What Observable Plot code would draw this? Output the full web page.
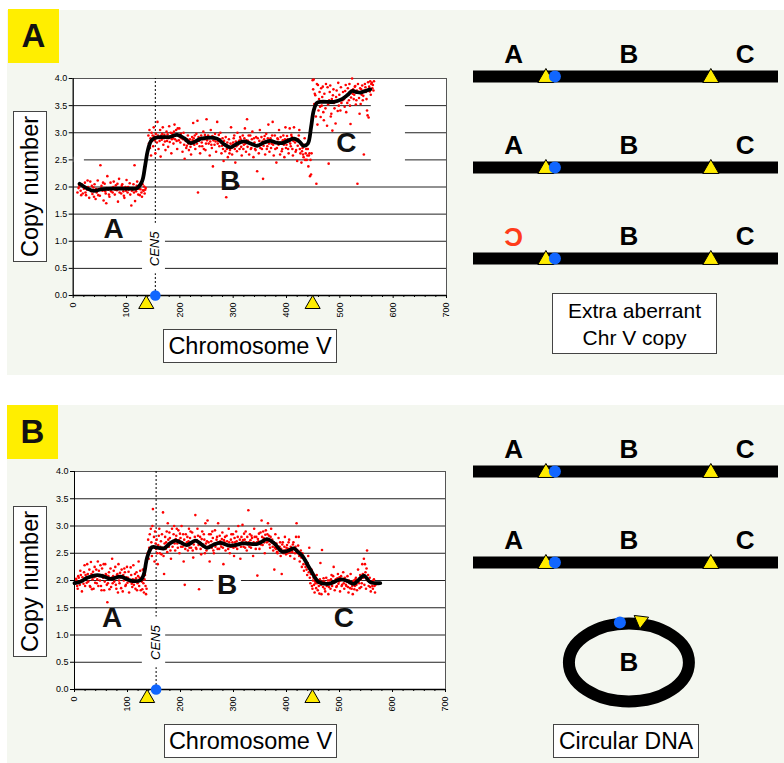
<!DOCTYPE html>
<html><head><meta charset="utf-8">
<script src="https://cdn.jsdelivr.net/npm/d3@7"></script>
<script src="https://cdn.jsdelivr.net/npm/@observablehq/plot@0.6"></script>
<style>
body{margin:0;background:#fff;font-family:"Liberation Sans",Arial,sans-serif;}
#root{position:relative;width:784px;height:763px;overflow:hidden;background:#fff;}
.panel{position:absolute;left:7px;width:777px;background:#f4f7f0;}
.tag{position:absolute;background:#ffee00;font-weight:bold;font-size:33px;display:flex;align-items:center;justify-content:center;color:#111;}
.box{position:absolute;background:#fff;border:1.5px solid #444;box-sizing:border-box;display:flex;align-items:center;justify-content:center;text-align:center;color:#000;font-size:23.5px;}
.vert{writing-mode:vertical-rl;transform:rotate(180deg);}
.abs{position:absolute;}
</style></head><body>
<div id="root">
  <div class="panel" style="top:10px;height:365px"></div>
  <div class="panel" style="top:405px;height:358px"></div>
  <div class="tag" style="left:8px;top:9px;width:51px;height:54px">A</div>
  <div class="tag" style="left:7px;top:405px;width:51px;height:54px">B</div>
  <div class="abs" id="chartA" style="left:0;top:60px"></div>
  <div class="abs" id="chartB" style="left:0;top:453px"></div>
  <div class="abs" id="diagA" style="left:460px;top:10px"></div>
  <div class="abs" id="diagB" style="left:460px;top:405px"></div>
  <div class="box vert" style="left:13px;top:111px;width:34px;height:151px">Copy number</div>
  <div class="box" style="left:163px;top:329px;width:174px;height:34px">Chromosome V</div>
  <div class="box" style="left:552px;top:293px;width:165px;height:61px;font-size:21px;line-height:27px">Extra aberrant<br>Chr V copy</div>
  <div class="box vert" style="left:13px;top:506px;width:34px;height:151px">Copy number</div>
  <div class="box" style="left:164px;top:724px;width:173px;height:34px">Chromosome V</div>
  <div class="box" style="left:553px;top:724px;width:146px;height:34px;font-size:23px">Circular DNA</div>
</div>
<script>
// ---------- data ----------
const chrLen = 577;            // Chromosome V length (kb)
const cen5 = 154;              // centromere position (kb)
const markers = [137, 449];    // yellow triangle breakpoints (kb)
const regionNames = ["A", "B", "C"];
const regionPos = [76, 294, 514];

const xTicks = [0, 100, 200, 300, 400, 500, 600, 700];
const xMinor = [20,40,60,80,120,140,160,180,220,240,260,280,320,340,360,380,420,440,460,480,520,540,560,580,620,640,660,680];
const yTicks = [0, 0.5, 1, 1.5, 2, 2.5, 3, 3.5, 4];
const gridY = [0.5, 1, 1.5, 2, 2.5, 3, 3.5];

// Panel A: smoothed copy number
const smoothA = [[12,2.06],[25,1.98],[38,1.93],[55,1.96],[80,1.97],[105,1.97],[120,1.98],[129,2.1],[135,2.4],[140,2.68],[146,2.85],[152,2.9],[165,2.92],[180,2.92],[195,2.96],[208,2.9],[220,2.81],[240,2.89],[270,2.89],[284,2.78],[295,2.73],[308,2.8],[320,2.84],[333,2.8],[345,2.76],[358,2.82],[370,2.85],[380,2.82],[392,2.81],[404,2.86],[414,2.89],[424,2.84],[432,2.76],[440,2.8],[446,3.1],[451,3.41],[457,3.55],[465,3.57],[489,3.57],[504,3.62],[515,3.7],[523,3.77],[531,3.75],[539,3.74],[548,3.77],[557,3.8]];
// Panel A: probe copy numbers [kb, copy number]
const pointsA = [
[8,1.9],[10,1.98],[11,2.04],[12,2.02],[14,1.93],[15,1.85],[16,2.05],[18,1.88],[19,2.0],[20,1.97],[22,2.08],[23,1.9],[24,1.85],[26,1.95],[27,2.12],[28,2.0],[30,1.8],[31,1.95],[32,2.1],[34,1.92],[35,2.02],[36,1.87],[38,1.99],[39,1.82],[40,2.05],[42,1.78],[43,1.96],[44,1.9],[46,2.12],[47,1.85],[48,1.96],[50,1.84],[51,2.4],[52,1.97],[53,2.02],[55,1.93],[56,2.08],[57,1.75],[59,2.06],[60,1.92],[61,1.88],[62,1.7],[63,1.98],[64,2.2],[66,1.95],[67,1.86],[68,1.82],[70,2.08],[71,1.92],[72,1.98],[74,1.9],[75,2.0],[76,2.1],[78,1.86],[79,1.95],[80,2.03],[82,1.94],[83,2.06],[84,1.73],[86,2.15],[87,1.9],[88,1.97],[90,1.88],[91,2.02],[92,2.05],[94,1.92],[95,1.84],[96,1.8],[98,2.0],[99,1.93],[100,2.13],[102,1.9],[103,2.0],[104,1.95],[106,2.07],[107,1.86],[109,1.66],[110,1.93],[111,1.98],[113,2.05],[114,1.9],[115,2.4],[116,1.74],[118,1.92],[119,2.02],[120,2.1],[122,1.86],[123,1.97],[124,2.02],[125,1.85],[126,1.96],[127,2.06],[128,1.9],[129,1.82],[130,2.05],[131,1.94],[132,1.93],[133,2.01],[134,1.88],[135,1.95],[136,1.98],
[140,2.65],[141,2.95],[142,2.8],[143,3.05],[144,2.72],[145,2.9],[146,2.58],[147,3.0],[148,2.85],[149,2.95],[150,2.75],[151,3.1],[152,2.93],[153,2.86],[154,2.62],[155,2.98],[156,2.9],[157,2.82],[158,3.2],[159,2.95],[160,2.7],[161,2.92],[162,2.85],[163,3.05],[164,2.56],[165,2.95],[166,2.87],[167,2.98],[168,3.1],[169,2.78],[170,2.9],[171,2.96],[172,2.84],[173,2.68],[174,2.92],[175,3.02],[176,2.85],[177,2.97],[178,2.74],[179,2.9],[180,3.12],[181,2.83],[182,2.92],[183,3.0],[184,2.62],[185,2.88],[186,2.98],[187,2.9],[188,2.8],[189,3.02],[190,3.15],[191,2.88],[192,2.95],[193,3.05],[194,2.85],[195,2.7],[196,3.08],[197,2.95],[198,2.86],[199,3.08],[200,2.92],[201,2.82],[202,2.98],[203,2.9],[205,2.65],[206,2.88],[207,3.0],[208,2.78],[209,2.52],[210,2.9],[211,2.85],[212,2.72],[213,2.76],[214,2.88],[215,2.95],[216,2.8],[217,2.68],[218,2.84],[219,2.88],[220,2.74],[221,2.6],[222,2.8],[223,2.92],[224,2.86],[225,3.18],[226,2.9],[227,2.78],[228,2.95],[229,2.7],[230,2.84],[231,2.98],[232,2.8],[233,3.22],[234,1.9],[235,2.92],[236,2.85],[237,2.75],[238,2.62],[239,2.9],[240,2.95],[241,2.82],[242,2.75],[243,2.88],[244,3.02],[245,2.7],[246,2.88],[247,2.96],[248,2.68],[249,2.8],[250,3.25],[251,2.86],[252,2.92],[253,2.95],[254,2.8],[255,2.9],[256,2.58],[257,2.84],[258,3.05],[259,2.78],[260,2.72],[261,2.94],[262,2.38],[263,2.86],[264,2.9],[265,2.78],[266,2.98],[267,2.84],[268,2.65],[269,2.9],[270,3.2],[271,2.8],[272,2.85],[273,2.96],[274,2.75],[275,2.88],[276,3.0],[277,2.82],[278,2.62],[279,2.76],[280,2.9],[281,2.7],[282,2.48],[283,2.85],[284,2.78],[285,2.66],[286,2.92],[287,1.81],[288,2.7],[289,2.82],[290,2.55],[291,2.74],[292,2.88],[293,2.62],[294,2.68],[295,2.8],[296,3.1],[297,2.72],[298,2.6],[299,2.78],[300,2.82],[301,2.9],[302,2.95],[303,2.7],[304,2.45],[305,2.84],[306,2.75],[307,2.66],[308,3.0],[309,2.78],[310,2.02],[311,2.85],[312,2.7],[313,2.92],[314,2.88],[315,2.74],[316,2.58],[317,2.82],[318,2.95],[319,2.7],[320,2.78],[321,2.9],[322,3.08],[323,2.8],[324,2.65],[325,2.86],[326,3.25],[327,2.74],[328,2.85],[329,2.95],[330,2.6],[331,2.8],[332,2.95],[333,2.7],[334,2.72],[335,2.88],[336,3.02],[337,2.78],[338,2.55],[339,2.9],[340,2.82],[341,2.7],[342,2.68],[343,2.92],[345,2.29],[346,2.9],[347,2.76],[348,2.62],[349,2.85],[350,3.05],[351,2.72],[352,2.78],[353,2.92],[354,2.7],[355,2.84],[356,2.15],[357,2.76],[358,2.88],[359,2.94],[360,2.6],[361,2.82],[362,2.98],[363,2.7],[364,2.75],[365,2.9],[366,3.15],[367,2.8],[368,2.65],[369,2.86],[370,2.9],[371,2.72],[372,2.8],[373,2.95],[374,3.2],[375,2.78],[376,2.58],[377,2.84],[378,2.95],[379,2.7],[381,2.45],[382,2.72],[383,2.9],[384,2.88],[385,2.78],[386,3.05],[387,2.82],[388,2.6],[389,2.92],[390,2.82],[391,2.66],[392,2.7],[393,2.86],[394,2.95],[395,2.78],[396,2.55],[397,2.88],[398,3.1],[399,2.72],[400,2.78],[401,2.94],[402,2.88],[403,2.7],[404,2.62],[405,2.84],[406,3.08],[407,2.8],[408,2.75],[409,2.96],[410,2.92],[411,2.7],[412,2.58],[413,2.85],[414,3.1],[415,2.9],[416,2.82],[417,2.65],[418,2.68],[419,2.88],[420,2.48],[421,2.76],[422,2.88],[423,2.95],[424,3.05],[425,2.7],[426,2.62],[427,2.8],[428,2.45],[429,2.66],[430,2.72],[431,2.6],[432,2.55],[433,2.78],[434,2.9],[435,2.5],[436,2.62],[437,2.7],[438,2.5],[439,2.58],[440,2.7],[441,2.38],[442,2.58],[443,2.62],[444,2.2],[445,2.5],[446,2.23],[447,2.62],
[449,3.97],[450,3.8],[451,3.98],[452,3.53],[453,3.72],[454,3.69],[455,3.3],[456,2.06],[457,3.9],[458,3.15],[459,3.88],[460,3.41],[461,3.62],[462,3.75],[463,3.48],[464,3.29],[465,3.82],[466,3.5],[467,3.66],[468,3.85],[469,3.38],[470,3.23],[471,3.72],[472,3.58],[473,3.45],[474,3.9],[476,3.13],[477,3.84],[478,3.52],[479,2.43],[480,3.6],[481,3.75],[482,3.87],[483,3.3],[484,3.35],[485,3.62],[486,3.04],[487,3.69],[488,3.8],[489,3.55],[490,3.45],[492,3.17],[493,3.66],[494,3.78],[495,3.58],[496,3.4],[497,3.92],[498,3.5],[499,3.7],[501,3.41],[502,3.84],[503,3.55],[505,3.6],[506,3.75],[508,3.62],[509,3.48],[510,3.77],[511,3.88],[512,3.38],[513,3.68],[514,3.55],[515,3.82],[516,3.7],[517,3.6],[518,3.9],[519,3.5],[520,3.16],[521,3.65],[522,3.78],[523,4.0],[524,3.72],[525,3.8],[526,3.62],[527,3.7],[528,3.85],[529,3.86],[530,3.52],[531,3.6],[532,3.78],[533,2.06],[534,3.9],[535,3.75],[536,3.64],[537,3.35],[538,3.82],[539,3.53],[540,3.8],[541,3.7],[542,3.87],[543,3.6],[544,3.68],[545,2.6],[546,3.78],[547,3.9],[548,3.84],[549,3.75],[550,3.62],[551,3.41],[552,3.32],[553,3.93],[554,3.28],[555,3.85],[556,3.76],[557,3.95],[558,3.7],[559,3.9],[560,3.92],[561,3.82],[562,3.88],[563,3.78],[564,3.95]
];
const labelsA = [{t:"A", x:76, y:1.22}, {t:"B", x:294, y:2.11}, {t:"C", x:512, y:2.81}];
const gapsA = [{x1:130, x2:173, y1:0.4, y2:1.33}, {x1:559, x2:623, y1:2.4, y2:3.6}, {x1:0, x2:21, y1:2.45, y2:2.55}];

// Panel B: smoothed copy number
const smoothB = [[0,1.95],[12,1.98],[24,2.05],[43,2.1],[56,2.07],[68,2.03],[87,2.07],[100,2.02],[109,1.99],[125,2.01],[131,2.12],[137,2.42],[146,2.61],[158,2.6],[169,2.59],[180,2.68],[190,2.73],[200,2.7],[212,2.65],[228,2.73],[240,2.66],[250,2.6],[263,2.66],[275,2.69],[294,2.64],[319,2.68],[345,2.67],[355,2.72],[363,2.76],[376,2.69],[392,2.53],[404,2.55],[414,2.59],[422,2.52],[430,2.45],[445,2.2],[461,1.97],[480,1.94],[502,2.02],[515,1.99],[527,1.94],[537,2.02],[546,2.09],[558,1.97],[577,1.95]];
// Panel B: probe copy numbers [kb, copy number]
const pointsB = [
[2,1.95],[3,2.03],[4,2.0],[5,1.9],[6,1.85],[7,2.08],[8,2.05],[9,1.97],[10,1.92],[11,2.18],[12,2.1],[13,2.0],[14,1.8],[15,2.06],[16,2.0],[17,1.94],[18,2.15],[19,2.28],[20,1.9],[21,2.1],[22,2.05],[23,1.96],[24,2.3],[25,2.12],[26,1.98],[27,2.06],[28,2.2],[29,1.9],[30,1.88],[31,2.34],[32,2.12],[33,1.84],[34,2.02],[35,2.16],[36,1.85],[37,2.06],[38,2.25],[39,1.96],[40,2.08],[41,2.2],[42,1.95],[43,2.02],[44,2.35],[45,1.9],[46,2.18],[47,2.08],[48,2.0],[49,2.28],[50,1.9],[51,1.82],[52,2.22],[53,2.1],[54,2.05],[55,2.3],[56,1.82],[57,1.98],[58,2.3],[59,2.12],[60,2.1],[61,1.92],[62,1.6],[63,1.95],[64,2.08],[65,2.15],[66,1.84],[67,2.02],[68,2.22],[69,1.88],[70,2.05],[71,2.4],[72,1.95],[73,2.08],[74,2.18],[75,1.98],[76,2.06],[77,2.25],[78,1.92],[79,1.85],[80,2.1],[81,2.12],[82,1.78],[83,2.3],[84,2.0],[85,1.95],[86,2.14],[87,2.05],[88,1.86],[89,2.2],[90,2.08],[91,1.8],[92,2.1],[93,2.0],[94,2.22],[95,2.15],[96,1.9],[97,1.92],[98,2.06],[99,2.25],[100,1.96],[101,2.05],[102,2.16],[103,1.78],[104,2.0],[105,1.98],[106,2.24],[107,2.1],[108,1.94],[109,1.88],[110,2.02],[111,2.28],[112,1.92],[113,2.0],[114,2.12],[115,1.85],[116,2.04],[117,2.15],[118,1.82],[119,1.95],[120,2.08],[121,2.35],[122,1.9],[123,2.05],[124,2.18],[125,1.82],[126,2.0],[127,1.98],[128,1.84],[129,2.2],[130,1.95],[131,1.78],[132,2.02],[133,2.1],[134,1.9],[135,1.75],[136,1.85],
[138,2.5],[139,2.75],[140,2.4],[141,2.6],[142,2.85],[143,2.55],[144,2.95],[145,2.7],[146,2.45],[147,3.0],[148,3.31],[149,2.62],[150,2.8],[151,2.35],[152,2.9],[153,2.68],[154,2.58],[155,2.75],[156,2.5],[157,2.3],[158,2.65],[159,2.82],[160,2.95],[161,2.5],[162,2.62],[163,2.72],[164,2.48],[165,2.85],[166,2.6],[167,3.25],[168,2.45],[169,2.12],[170,2.68],[171,2.8],[172,2.58],[173,2.7],[174,2.9],[175,2.52],[176,3.05],[177,2.75],[178,2.62],[179,2.88],[180,2.78],[181,2.55],[182,2.4],[183,2.7],[184,2.95],[185,2.62],[186,2.7],[187,2.85],[188,3.0],[189,2.68],[190,2.55],[191,2.76],[192,2.82],[193,2.95],[194,2.68],[195,2.6],[196,2.92],[197,2.74],[198,2.5],[199,2.86],[200,2.78],[201,2.62],[202,3.0],[203,2.7],[204,2.62],[205,2.85],[206,2.35],[207,2.75],[208,1.92],[209,2.58],[210,2.85],[211,2.66],[212,2.7],[213,2.8],[214,2.55],[215,2.72],[216,2.95],[217,2.6],[218,2.78],[219,2.9],[220,2.6],[221,2.7],[222,2.88],[223,2.55],[224,2.42],[225,2.66],[226,2.72],[227,2.8],[228,3.2],[229,2.6],[230,2.58],[231,2.74],[232,2.95],[233,2.82],[234,2.65],[235,1.84],[236,2.7],[237,2.8],[238,2.58],[239,2.48],[240,2.76],[241,2.9],[242,2.66],[243,2.62],[244,2.85],[245,2.75],[246,2.5],[247,3.05],[248,2.68],[249,2.55],[250,2.72],[251,3.1],[252,2.62],[253,2.7],[254,2.85],[255,2.35],[256,2.64],[257,2.85],[258,2.72],[259,2.6],[260,2.9],[261,2.78],[262,2.55],[263,2.5],[264,2.68],[265,2.92],[266,2.62],[267,2.68],[268,2.75],[269,2.8],[270,2.58],[271,3.05],[272,2.7],[273,2.58],[274,2.82],[275,2.72],[276,2.66],[277,2.62],[278,2.76],[279,2.88],[280,2.6],[281,2.3],[282,2.74],[283,2.7],[284,2.8],[285,2.55],[286,2.66],[287,2.82],[288,2.72],[289,2.65],[290,2.58],[291,2.95],[292,2.7],[293,2.5],[294,2.62],[295,2.75],[296,2.85],[297,2.62],[298,2.7],[299,2.85],[300,2.6],[301,2.45],[302,2.78],[303,2.7],[304,2.62],[305,2.9],[306,2.72],[307,2.58],[308,2.8],[309,3.0],[310,2.66],[311,2.68],[312,2.75],[313,2.4],[314,2.62],[315,2.8],[316,2.7],[317,3.02],[318,2.74],[319,2.62],[320,2.86],[321,2.75],[322,2.6],[323,2.9],[324,2.7],[325,2.55],[326,2.8],[327,2.66],[328,3.29],[329,2.7],[330,2.62],[331,2.85],[332,2.74],[333,2.6],[334,2.82],[335,2.78],[336,2.66],[337,2.45],[338,2.7],[339,2.95],[340,2.8],[341,2.68],[342,2.58],[343,2.8],[344,2.7],[345,2.09],[346,2.76],[347,2.72],[348,2.86],[349,2.58],[350,2.7],[351,2.88],[352,2.66],[353,3.1],[354,2.8],[355,2.65],[356,2.9],[357,2.78],[358,2.7],[359,2.5],[360,2.84],[361,2.92],[362,2.76],[363,2.7],[364,2.85],[365,3.05],[366,2.72],[367,2.82],[368,2.66],[369,2.6],[370,2.8],[371,2.95],[372,2.7],[373,2.75],[374,2.62],[375,2.55],[376,2.7],[377,2.2],[378,2.6],[379,2.85],[380,2.58],[381,2.68],[382,2.52],[383,2.5],[384,2.62],[385,2.78],[386,2.55],[387,2.62],[388,2.7],[389,2.45],[390,2.58],[391,2.12],[392,2.66],[393,2.7],[394,2.5],[395,2.55],[396,2.62],[397,2.8],[398,2.55],[399,2.48],[400,2.6],[401,2.65],[402,2.5],[403,2.58],[404,2.7],[405,2.75],[406,2.52],[407,2.45],[408,2.62],[409,2.6],[410,2.55],[411,2.52],[412,2.66],[413,2.7],[414,2.58],[415,2.4],[416,2.5],[417,2.62],[418,2.8],[419,3.05],[420,2.56],[421,2.5],[422,2.64],[423,2.8],[424,2.45],[425,2.35],[426,2.5],[427,2.55],[428,2.42],[429,2.25],[430,2.5],[431,2.45],[432,2.3],[433,2.18],[434,2.4],[435,2.38],[436,2.25],[437,2.3],[438,2.2],[439,2.1],[440,2.32],[441,2.45],[442,2.15],[443,2.6],[444,2.05],
[445,1.95],[446,2.12],[447,2.2],[448,1.9],[449,1.85],[450,2.0],[451,2.05],[452,1.92],[453,1.78],[454,1.98],[455,1.95],[456,1.86],[457,2.1],[458,1.95],[459,1.82],[460,2.0],[461,1.9],[462,1.76],[463,2.02],[464,2.32],[465,1.92],[466,1.75],[467,2.56],[468,1.98],[469,1.88],[470,2.04],[471,1.98],[472,1.85],[473,1.8],[474,1.95],[475,2.05],[476,1.9],[477,1.92],[478,2.0],[479,1.75],[480,1.88],[481,2.0],[482,1.95],[483,1.85],[484,2.02],[485,2.1],[486,1.9],[487,1.95],[488,2.08],[489,2.25],[490,1.96],[491,1.82],[492,1.98],[493,2.02],[494,1.88],[495,1.9],[496,2.04],[497,2.12],[498,1.94],[499,1.98],[500,2.06],[501,1.8],[502,2.0],[503,2.08],[504,1.9],[505,1.92],[506,2.02],[507,2.15],[508,1.95],[509,1.85],[510,2.05],[511,2.0],[512,1.92],[513,1.9],[514,1.98],[515,2.08],[516,1.88],[517,1.78],[518,2.0],[519,1.95],[520,1.86],[521,2.12],[522,1.94],[523,1.85],[524,1.9],[525,1.75],[526,1.98],[527,2.0],[528,1.84],[529,1.9],[530,2.02],[531,2.05],[532,1.92],[533,1.82],[534,1.98],[535,2.2],[536,2.0],[537,1.95],[538,1.86],[539,2.1],[540,2.02],[541,1.88],[542,1.95],[543,2.3],[544,2.12],[545,2.05],[546,2.4],[547,1.92],[548,2.3],[549,2.15],[550,1.85],[551,2.22],[552,2.55],[553,2.0],[554,2.1],[555,1.9],[556,1.98],[557,2.05],[558,1.88],[559,1.8],[560,1.95],[561,1.98],[562,1.9],[563,1.85],[564,2.0],[565,2.02],[566,1.9],[567,1.78],[568,1.92],[569,1.95]
];
const labelsB = [{t:"A", x:71, y:1.32}, {t:"B", x:288, y:1.92}, {t:"C", x:508, y:1.32}];
const gapsB = [{x1:128, x2:172, y1:0.4, y2:1.33}, {x1:263, x2:315, y1:1.95, y2:2.05}];

// ---------- drawing ----------
const FONT = "'Liberation Sans', Arial, sans-serif";
const YELLOW = "#ffec00", BLUE = "#1166ff", RED = "#ff0000";

function cnvChart({points, smooth, labels, gaps, mL, mR, mB}) {
  return Plot.plot({
    width: 460, height: 300,
    marginLeft: mL, marginRight: mR, marginTop: 18, marginBottom: mB,
    x: {domain: [0, 700]},
    y: {domain: [0, 4]},
    style: {background: "transparent", overflow: "visible", fontFamily: FONT, fontSize: "9px", color: "#000"},
    marks: [
      Plot.frame({fill: "white", stroke: "#555"}),
      Plot.ruleY(gridY, {stroke: "#222", strokeWidth: 1}),
      Plot.ruleX([cen5], {y1: 0, y2: 4, stroke: "#000", strokeDasharray: "2,2"}),
      Plot.rect(gaps, {x1: "x1", x2: "x2", y1: "y1", y2: "y2", fill: "white"}),
      Plot.dot(points, {x: d => d[0], y: d => d[1], r: 1.3, fill: RED}),
      Plot.line(smooth, {x: d => d[0], y: d => d[1], stroke: "#000", strokeWidth: 3.8, curve: "catmull-rom"}),
      Plot.ruleX([0], {stroke: "#000"}),
      Plot.ruleY([0], {stroke: "#000", strokeWidth: 1.5}),
      Plot.axisY({ticks: yTicks, tickFormat: d3.format(".1f"), tickSize: 4, tickPadding: 2, label: null, fontSize: 9}),
      Plot.axisX({ticks: xTicks, tickSize: 3, tickRotate: -90, tickPadding: 4, label: null, fontSize: 9}),
      Plot.axisX({ticks: xMinor, tickSize: 2, tickFormat: () => "", label: null}),
      Plot.text(labels, {x: "x", y: "y", text: "t", fontSize: 28, fontWeight: "bold", fill: "#111"}),
      Plot.text([cen5], {x: d => d, y: 0.86, text: () => "CEN5", rotate: -90, fontStyle: "italic", fontSize: 13}),
      Plot.dot(markers, {x: d => d, y: 0, symbol: "triangle", r: 5.6, fill: YELLOW, stroke: "#000", strokeWidth: 1, dy: 8.66}),
      Plot.dot([cen5], {x: d => d, y: 0, r: 5.3, fill: BLUE})
    ]
  });
}

document.getElementById("chartA").append(cnvChart({points: pointsA, smooth: smoothA, labels: labelsA, gaps: gapsA, mL: 72.7, mR: 14, mB: 65}));
document.getElementById("chartB").append(cnvChart({points: pointsB, smooth: smoothB, labels: labelsB, gaps: gapsB, mL: 74, mR: 15, mB: 64}));

// custom symbols for the diagram
const ellipseSymbol = {draw(ctx, size) {
  const rx = Math.sqrt(size / Math.PI), ry = rx * 0.65, k = 0.5523;
  ctx.moveTo(rx, 0);
  ctx.bezierCurveTo(rx, ry * k, rx * k, ry, 0, ry);
  ctx.bezierCurveTo(-rx * k, ry, -rx, ry * k, -rx, 0);
  ctx.bezierCurveTo(-rx, -ry * k, -rx * k, -ry, 0, -ry);
  ctx.bezierCurveTo(rx * k, -ry, rx, -ry * k, rx, 0);
  ctx.closePath();
}};
const tiltedDown = {draw(ctx, size) {
  const y = -Math.sqrt(size / (3 * Math.sqrt(3)));
  const pts = [[0, 2 * y], [-Math.sqrt(3) * y, -y], [Math.sqrt(3) * y, -y]];
  const a = 187 * Math.PI / 180, c = Math.cos(a), s = Math.sin(a);
  pts.forEach(([px, py], i) => { const X = px * c - py * s, Y = px * s + py * c; i ? ctx.lineTo(X, Y) : ctx.moveTo(X, Y); });
  ctx.closePath();
}};

function diagram({rows, height}) {
  const lin = rows.filter(r => r.kind === "linear");
  const circ = rows.filter(r => r.kind === "circle");
  const letters = lin.flatMap(r => regionNames.map((n, i) => ({row: r.id, name: n, pos: regionPos[i], inv: !!r.invertedLeft && i === 0})));
  const tris = lin.flatMap(r => markers.map(m => ({row: r.id, pos: m})));
  return Plot.plot({
    width: 324, height,
    marginLeft: 13, marginRight: 6, marginTop: 0, marginBottom: 0,
    x: {domain: [0, chrLen], axis: null},
    y: {type: "point", domain: rows.map(r => r.id), range: [66, 248], padding: 0, axis: null},
    style: {background: "transparent", overflow: "visible", fontFamily: FONT},
    marks: [
      Plot.ruleY(lin, {y: "id", x1: 0, x2: chrLen, stroke: "#000", strokeWidth: 12}),
      Plot.text(letters.filter(d => !d.inv), {x: "pos", y: "row", text: "name", dy: -22, fontSize: 26, fontWeight: "bold", fill: "#000"}),
      Plot.text(letters.filter(d => d.inv), {x: "pos", y: "row", text: () => "C", rotate: 180, dy: -22, fontSize: 26, fontWeight: "bold", fill: "#ff3c1a"}),
      Plot.dot(tris, {x: "pos", y: "row", symbol: "triangle", r: 6, fill: YELLOW, stroke: "#000", strokeWidth: 1, dy: 1.3}),
      Plot.dot(lin, {x: () => cen5, y: "id", r: 6, fill: BLUE}),
      Plot.dot(circ, {x: () => regionPos[1], y: "id", symbol: ellipseSymbol, r: 60, fill: "none", stroke: "#000", strokeWidth: 12, dy: 9}),
      Plot.text(circ, {x: () => regionPos[1], y: "id", text: () => "B", dy: 9, fontSize: 26, fontWeight: "bold", fill: "#000"}),
      Plot.dot(circ, {x: () => regionPos[1], y: "id", r: 6, fill: BLUE, dx: -9, dy: -31}),
      Plot.dot(circ, {x: () => regionPos[1], y: "id", symbol: tiltedDown, r: 5.4, fill: YELLOW, stroke: "#000", strokeWidth: 1, dx: 12, dy: -33})
    ]
  });
}

document.getElementById("diagA").append(diagram({height: 365, rows: [
  {id: "chr1", kind: "linear"}, {id: "chr2", kind: "linear"}, {id: "aberrant", kind: "linear", invertedLeft: true}
]}));
document.getElementById("diagB").append(diagram({height: 358, rows: [
  {id: "chr1", kind: "linear"}, {id: "chr2", kind: "linear"}, {id: "circle", kind: "circle"}
]}));
</script>
</body></html>
